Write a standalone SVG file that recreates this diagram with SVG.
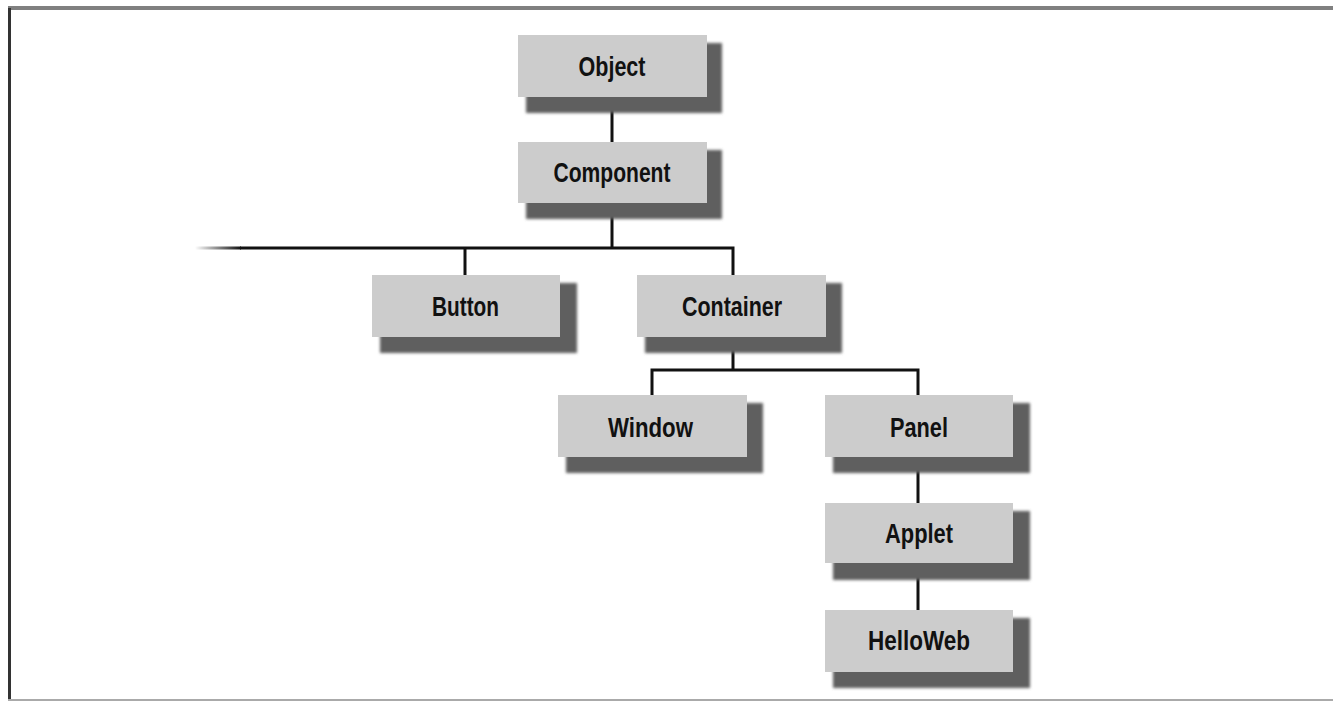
<svg xmlns="http://www.w3.org/2000/svg" width="1333" height="702" viewBox="0 0 1333 702">
<defs>
<filter id="blur" x="-10%" y="-10%" width="120%" height="130%"><feGaussianBlur stdDeviation="1.5"/></filter>
<linearGradient id="fade" x1="0" y1="0" x2="1" y2="0"><stop offset="0" stop-color="#111" stop-opacity="0"/><stop offset="1" stop-color="#111" stop-opacity="1"/></linearGradient>
</defs>
<style>
.box{fill:#cccccc}
.sh{fill:#5f5f5f;filter:url(#blur)}
.lbl{font-family:"Liberation Sans",Arial,sans-serif;font-weight:bold;font-size:27px;fill:#111;text-anchor:middle}
.ln{stroke:#111;stroke-width:3;fill:none}
</style>
<rect width="1333" height="702" fill="#fff"/>
<g id="frame">
<line x1="8" y1="8" x2="1333" y2="8" stroke="#808080" stroke-width="4"/>
<line x1="9.5" y1="8" x2="9.5" y2="700" stroke="#333" stroke-width="3"/>
<line x1="8" y1="700" x2="1333" y2="700" stroke="#aaa" stroke-width="2"/>
</g>
<g id="connectors">
<line class="ln" x1="612" y1="97" x2="612" y2="142"/>
<line class="ln" x1="612" y1="203" x2="612" y2="248"/>
<polyline class="ln" points="240,248 733,248 733,275"/>
<rect x="195" y="246.5" width="46" height="3" fill="url(#fade)"/>
<line class="ln" x1="465" y1="248" x2="465" y2="275"/>
<line class="ln" x1="733" y1="337" x2="733" y2="370"/>
<polyline class="ln" points="652,395 652,370 918,370 918,395"/>
<line class="ln" x1="918" y1="457" x2="918" y2="503"/>
<line class="ln" x1="918" y1="563" x2="918" y2="610"/>
</g>
<g id="n-object"><rect class="sh" x="526" y="43" width="196" height="70"/><rect class="box" x="518" y="35" width="189" height="62"/><text class="lbl" x="612" y="76" textLength="67" lengthAdjust="spacingAndGlyphs">Object</text></g>
<g id="n-component"><rect class="sh" x="526" y="150" width="196" height="69"/><rect class="box" x="518" y="142" width="189" height="61"/><text class="lbl" x="612" y="182" textLength="117" lengthAdjust="spacingAndGlyphs">Component</text></g>
<g id="n-button"><rect class="sh" x="380" y="283" width="197" height="70"/><rect class="box" x="372" y="275" width="188" height="62"/><text class="lbl" x="465.5" y="316" textLength="67" lengthAdjust="spacingAndGlyphs">Button</text></g>
<g id="n-container"><rect class="sh" x="645" y="283" width="197" height="70"/><rect class="box" x="637" y="275" width="189" height="62"/><text class="lbl" x="732" y="316" textLength="100" lengthAdjust="spacingAndGlyphs">Container</text></g>
<g id="n-window"><rect class="sh" x="566" y="403" width="197" height="70"/><rect class="box" x="558" y="395" width="189" height="62"/><text class="lbl" x="650.5" y="437" textLength="85" lengthAdjust="spacingAndGlyphs">Window</text></g>
<g id="n-panel"><rect class="sh" x="833" y="403" width="197" height="70"/><rect class="box" x="825" y="395" width="188" height="62"/><text class="lbl" x="919" y="437" textLength="58" lengthAdjust="spacingAndGlyphs">Panel</text></g>
<g id="n-applet"><rect class="sh" x="833" y="511" width="197" height="69"/><rect class="box" x="825" y="503" width="188" height="60"/><text class="lbl" x="919" y="543" textLength="68" lengthAdjust="spacingAndGlyphs">Applet</text></g>
<g id="n-helloweb"><rect class="sh" x="833" y="618" width="197" height="70"/><rect class="box" x="825" y="610" width="188" height="62"/><text class="lbl" x="919" y="650" textLength="102" lengthAdjust="spacingAndGlyphs">HelloWeb</text></g>
</svg>
